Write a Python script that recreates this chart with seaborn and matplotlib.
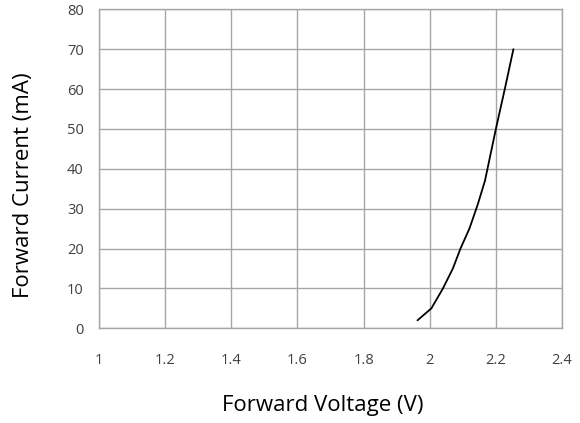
import matplotlib
matplotlib.use("Agg")
import matplotlib.pyplot as plt
import seaborn as sns
import pandas as pd
from matplotlib.ticker import FuncFormatter

# LED forward characteristic
voltage = [1.963, 2.005, 2.04, 2.07, 2.093, 2.12, 2.145, 2.167, 2.20, 2.227, 2.253]
current = [2, 5, 10, 15, 20, 25, 31, 37, 50, 60, 70]

x_ticks = [1.0, 1.2, 1.4, 1.6, 1.8, 2.0, 2.2, 2.4]
y_ticks = [0, 10, 20, 30, 40, 50, 60, 70, 80]

sns.set_style("white")
plt.rcParams["font.family"] = ["Open Sans", "DejaVu Sans"]

df = pd.DataFrame({"Forward Voltage (V)": voltage, "Forward Current (mA)": current})

fig = plt.figure(figsize=(5.8, 4.23), dpi=100)
ax = fig.add_axes([0.1707, 0.2239, 0.7983, 0.7541])

sns.lineplot(data=df, x="Forward Voltage (V)", y="Forward Current (mA)",
             sort=False, color="black", linewidth=1.3, ax=ax)

ax.set_xlim(1.0, 2.4)
ax.set_ylim(0, 80)
ax.set_xticks(x_ticks)
ax.set_yticks(y_ticks)
ax.xaxis.set_major_formatter(FuncFormatter(lambda v, p: f"{v:g}"))
ax.grid(True, color="#a6a6a6", linewidth=1.0)
ax.set_axisbelow(True)
for s in ax.spines.values():
    s.set_color("#a6a6a6")
    s.set_linewidth(1.0)

ax.tick_params(axis="x", length=0, pad=18, labelsize=10.5, labelcolor="#404040")
ax.tick_params(axis="y", length=0, pad=11, labelsize=10.5, labelcolor="#404040")

ax.set_xlabel("")
ax.set_ylabel("")
fig.text(323 / 580, 1 - 405 / 423, "Forward Voltage (V)", ha="center", va="center",
         fontsize=16, color="black")
fig.text(24 / 580, 1 - 185 / 423, "Forward Current (mA)", ha="center", va="center",
         rotation=90, fontsize=16, color="black")

fig.savefig("out.png", dpi=100)
